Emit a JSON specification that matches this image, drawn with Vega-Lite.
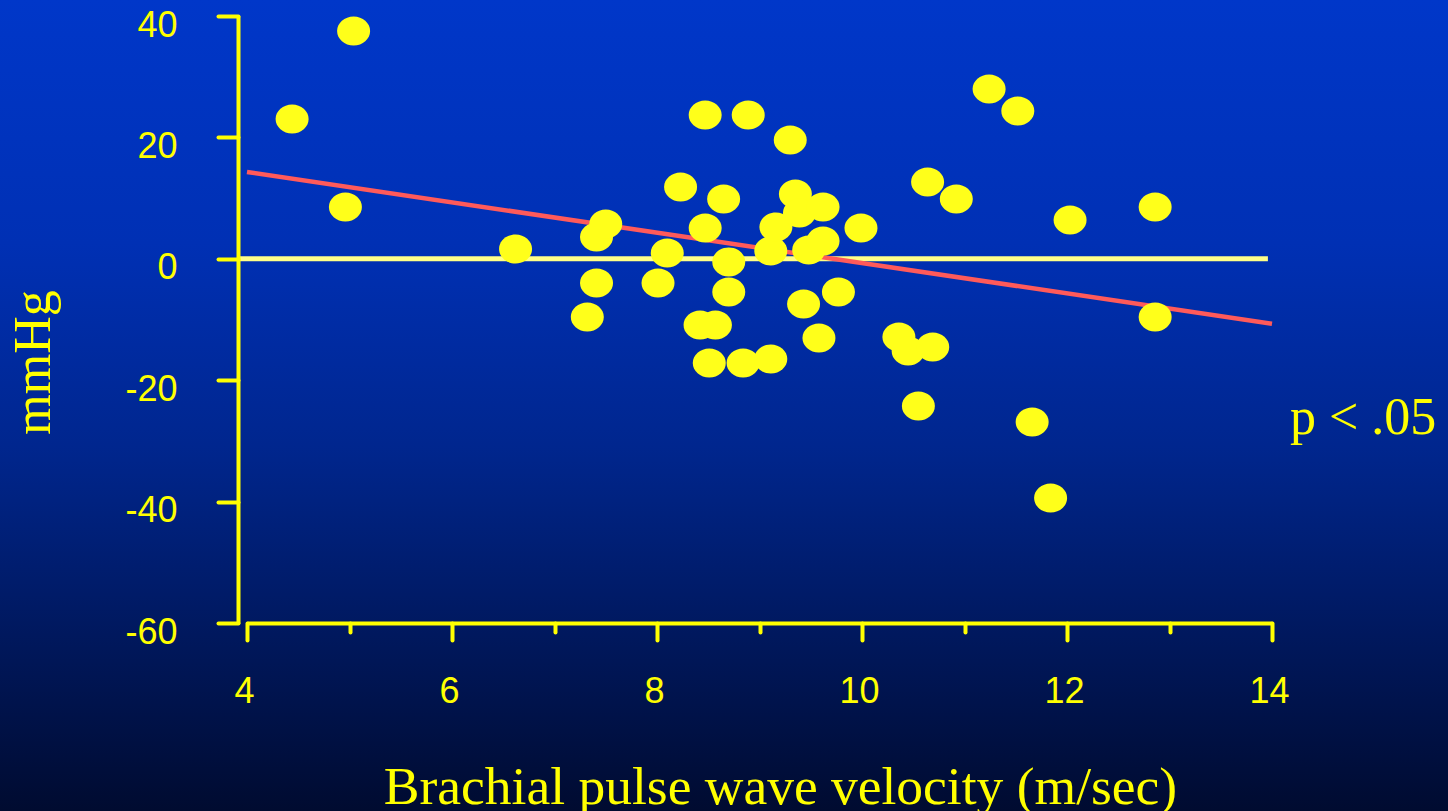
{
  "$schema": "https://vega.github.io/schema/vega-lite/v6.json",
  "width": 1025,
  "height": 607,
  "autosize": {"type": "none"},
  "padding": {"left": 247, "top": 16, "right": 176, "bottom": 188},
  "background": "#001a66",
  "config": {"view": {"stroke": null}},
  "datasets": {
    "points": [
      {"velocity": 4.44, "mmHg": 23.03},
      {"velocity": 5.04, "mmHg": 37.53},
      {"velocity": 4.96, "mmHg": 8.53},
      {"velocity": 6.62, "mmHg": 1.61},
      {"velocity": 7.41, "mmHg": 3.59},
      {"velocity": 7.5, "mmHg": 5.73},
      {"velocity": 7.41, "mmHg": -3.99},
      {"velocity": 7.32, "mmHg": -9.59},
      {"velocity": 8.01, "mmHg": -3.99},
      {"velocity": 8.1, "mmHg": 0.96},
      {"velocity": 8.23, "mmHg": 11.83},
      {"velocity": 8.47, "mmHg": 23.69},
      {"velocity": 8.47, "mmHg": 5.07},
      {"velocity": 8.65, "mmHg": 9.85},
      {"velocity": 8.7, "mmHg": -0.53},
      {"velocity": 8.7, "mmHg": -5.47},
      {"velocity": 8.42, "mmHg": -10.91},
      {"velocity": 8.57, "mmHg": -10.91},
      {"velocity": 8.51, "mmHg": -17.17},
      {"velocity": 8.84, "mmHg": -17.17},
      {"velocity": 8.89, "mmHg": 23.69},
      {"velocity": 9.11, "mmHg": -16.51},
      {"velocity": 9.11, "mmHg": 1.29},
      {"velocity": 9.16, "mmHg": 5.24},
      {"velocity": 9.3, "mmHg": 19.57},
      {"velocity": 9.35, "mmHg": 10.68},
      {"velocity": 9.39, "mmHg": 7.55},
      {"velocity": 9.62, "mmHg": 8.53},
      {"velocity": 9.48, "mmHg": 1.45},
      {"velocity": 9.62, "mmHg": 2.93},
      {"velocity": 9.43, "mmHg": -7.45},
      {"velocity": 9.58, "mmHg": -13.05},
      {"velocity": 9.77, "mmHg": -5.47},
      {"velocity": 9.99, "mmHg": 5.07},
      {"velocity": 10.36, "mmHg": -12.88},
      {"velocity": 10.45, "mmHg": -15.19},
      {"velocity": 10.69, "mmHg": -14.53},
      {"velocity": 10.64, "mmHg": 12.65},
      {"velocity": 10.92, "mmHg": 9.85},
      {"velocity": 10.55, "mmHg": -24.25},
      {"velocity": 11.24, "mmHg": 27.97},
      {"velocity": 11.52, "mmHg": 24.35},
      {"velocity": 11.66, "mmHg": -26.89},
      {"velocity": 11.84, "mmHg": -39.41},
      {"velocity": 12.03, "mmHg": 6.39},
      {"velocity": 12.86, "mmHg": 8.53},
      {"velocity": 12.86, "mmHg": -9.59}
    ],
    "fit": [
      {"velocity": 4, "mmHg": 14.3},
      {"velocity": 14, "mmHg": -10.7}
    ]
  },
  "layer": [
    {
      "data": {"values": [{}]},
      "mark": {
        "type": "rect",
        "fill": {
          "gradient": "linear",
          "x1": 0, "y1": 0, "x2": 0, "y2": 1,
          "stops": [
            {"offset": 0, "color": "#0037c9"},
            {"offset": 0.3, "color": "#0030b4"},
            {"offset": 0.55, "color": "#00268e"},
            {"offset": 0.8, "color": "#00175a"},
            {"offset": 1, "color": "#000b30"}
          ]
        }
      },
      "encoding": {
        "x": {"datum": 1.59, "type": "quantitative", "scale": {"domain": [4, 14], "nice": false, "zero": false}},
        "x2": {"datum": 15.72},
        "y": {"datum": 42.64, "type": "quantitative", "scale": {"domain": [-60, 40], "nice": false, "zero": false}},
        "y2": {"datum": -90.97}
      }
    },
    {
      "data": {"values": [{}]},
      "mark": {"type": "rule", "color": "#ffff88", "strokeWidth": 5},
      "encoding": {
        "x": {"datum": 3.912, "type": "quantitative", "scale": {"domain": [4, 14], "nice": false, "zero": false}},
        "x2": {"datum": 13.96},
        "y": {"datum": 0, "type": "quantitative", "scale": {"domain": [-60, 40], "nice": false, "zero": false}}
      }
    },
    {
      "data": {"name": "fit"},
      "mark": {"type": "line", "color": "#ff5a5a", "strokeWidth": 4.5},
      "encoding": {
        "x": {"field": "velocity", "type": "quantitative", "scale": {"domain": [4, 14], "nice": false, "zero": false}},
        "y": {"field": "mmHg", "type": "quantitative", "scale": {"domain": [-60, 40], "nice": false, "zero": false}}
      }
    },
    {
      "data": {"name": "points"},
      "mark": {
        "type": "point",
        "shape": "M -1 0 A 1 0.88 0 1 1 1 0 A 1 0.88 0 1 1 -1 0 Z",
        "size": 1089,
        "filled": true,
        "color": "#ffff1a",
        "opacity": 1,
        "strokeWidth": 0
      },
      "encoding": {
        "x": {
          "field": "velocity",
          "type": "quantitative",
          "scale": {"domain": [4, 14], "nice": false, "zero": false},
          "axis": {
            "zindex": 1,
            "values": [4, 5, 6, 7, 8, 9, 10, 11, 12, 13, 14],
            "grid": false,
            "domainColor": "#ffff00",
            "domainWidth": 4,
            "tickColor": "#ffff00",
            "tickWidth": 4,
            "tickCap": "round",
            "tickSize": {"condition": {"test": "datum.value % 2 === 1", "value": 9}, "value": 17},
            "labelExpr": "datum.value % 2 === 0 ? '' + datum.value : ''",
            "labelFlush": false,
            "labelOverlap": false,
            "labelFont": "Liberation Sans",
            "labelFontSize": 36,
            "labelColor": "#ffff00",
            "labelPadding": 34,
            "labelOffset": -3,
            "title": "Brachial pulse wave velocity (m/sec)",
            "titleFont": "Liberation Serif",
            "titleFontSize": 53.5,
            "titleFontWeight": "normal",
            "titleColor": "#ffff00",
            "titleX": 533,
            "titleY": 180,
            "titleAlign": "center",
            "titleBaseline": "alphabetic"
          }
        },
        "y": {
          "field": "mmHg",
          "type": "quantitative",
          "scale": {"domain": [-60, 40], "nice": false, "zero": false},
          "axis": {
            "zindex": 1,
            "values": [-60, -40, -20, 0, 20, 40],
            "offset": 9,
            "grid": false,
            "domainColor": "#ffff00",
            "domainWidth": 4,
            "tickColor": "#ffff00",
            "tickWidth": 4,
            "tickCap": "round",
            "tickSize": 20,
            "labelExpr": "'' + datum.value",
            "labelFont": "Liberation Sans",
            "labelFontSize": 36,
            "labelColor": "#ffff00",
            "labelPadding": 41,
            "labelOffset": 9,
            "labelOverlap": false,
            "labelFlush": false,
            "title": "mmHg",
            "titleFont": "Liberation Serif",
            "titleFontSize": 52,
            "titleFontWeight": "normal",
            "titleColor": "#ffff00",
            "titleAngle": -90,
            "titleX": -189,
            "titleY": 346,
            "titleAlign": "center",
            "titleBaseline": "alphabetic"
          }
        }
      }
    },
    {
      "data": {"values": [{"label": "p < .05"}]},
      "mark": {
        "type": "text",
        "align": "left",
        "baseline": "alphabetic",
        "font": "Liberation Serif",
        "fontSize": 52,
        "color": "#ffff00"
      },
      "encoding": {
        "text": {"field": "label"},
        "x": {"datum": 14.176, "type": "quantitative", "scale": {"domain": [4, 14], "nice": false, "zero": false}},
        "y": {"datum": -28.9, "type": "quantitative", "scale": {"domain": [-60, 40], "nice": false, "zero": false}}
      }
    }
  ]
}
